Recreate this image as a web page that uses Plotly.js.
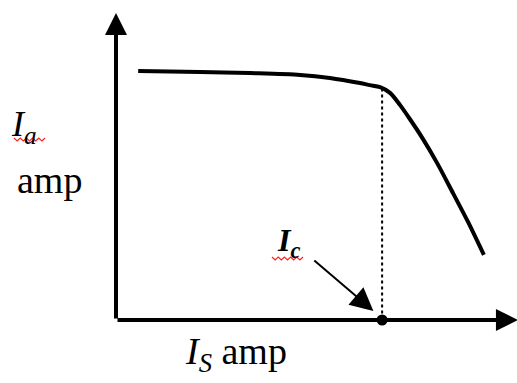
<!DOCTYPE html>
<html>
<head>
<meta charset="utf-8">
<script src="https://cdn.plot.ly/plotly-3.0.1.min.js"></script>
<style>html,body{margin:0;padding:0;background:#fff;}#chart{width:517px;height:383px;}</style>
</head>
<body>
<div id="chart"></div>
<script>
// Characteristic curve Ia vs Is (arbitrary units)
const curveX = [0.56, 2.12, 3.38, 4.65, 5.40, 6.16, 6.41, 6.67, 6.92, 7.17, 7.42, 7.73, 8.11, 8.51, 8.89, 9.29];
const curveY = [8.30, 8.27, 8.23, 8.17, 8.07, 7.90, 7.83, 7.76, 7.57, 7.17, 6.70, 6.08, 5.23, 4.23, 3.27, 2.17];
const criticalX = [6.72];     // Ic
const criticalY = [7.72];     // curve value at Ic
const axisMax = {x: 10.15, y: 10.23};
const labels = {
  ya: '<i>I</i><sub><i>a</i></sub>',
  yunit: 'amp',
  x: '<i>I</i><sub><i>S</i></sub> amp',
  ic: '<b><i>I</i></b><sub><b><i>c</i></b></sub>'
};

const serif = 'Liberation Serif, Times New Roman, serif';

const traces = [
  {x: curveX, y: curveY, mode: 'lines', line: {color: '#000', width: 4, shape: 'spline', smoothing: 0.8}, hoverinfo: 'skip', cliponaxis: false},
  {x: [criticalX[0], criticalX[0]], y: [criticalY[0], 0], mode: 'lines', line: {color: '#000', width: 2, dash: 'dot'}, hoverinfo: 'skip', cliponaxis: false},
  {x: criticalX, y: [0], mode: 'markers', marker: {color: '#000', size: 11}, hoverinfo: 'skip', cliponaxis: false}
];

const ann = [
  // axes with arrows
  {x: 0, y: axisMax.y, ax: 0, ay: 0, xref: 'x', yref: 'y', axref: 'x', ayref: 'y', text: '', showarrow: true, arrowhead: 2, arrowsize: 1.1, arrowwidth: 4, arrowcolor: '#000', standoff: 0},
  {x: axisMax.x, y: 0, ax: 0, ay: 0, xref: 'x', yref: 'y', axref: 'x', ayref: 'y', text: '', showarrow: true, arrowhead: 2, arrowsize: 1.1, arrowwidth: 4, arrowcolor: '#000', standoff: 0},
  // Ic pointer
  {x: 6.50, y: 0.30, ax: 4.97, ay: 2.03, xref: 'x', yref: 'y', axref: 'x', ayref: 'y', text: '', showarrow: true, arrowhead: 2, arrowsize: 2.3, arrowwidth: 2, arrowcolor: '#000', standoff: 0},
  // labels
  {xref: 'paper', yref: 'paper', x: (9 - 116) / 396, y: (320 - 126) / 300, xanchor: 'left', yanchor: 'middle', text: labels.ya, showarrow: false, font: {family: serif, size: 36, color: '#000'}},
  {xref: 'paper', yref: 'paper', x: (49 - 116) / 396, y: (320 - 180) / 300, xanchor: 'center', yanchor: 'middle', text: labels.yunit, showarrow: false, font: {family: serif, size: 38, color: '#000'}},
  {xref: 'paper', yref: 'paper', x: (236 - 116) / 396, y: (320 - 354) / 300, xanchor: 'center', yanchor: 'middle', text: labels.x, showarrow: false, font: {family: serif, size: 38, color: '#000'}},
  {xref: 'paper', yref: 'paper', x: (288 - 116) / 396, y: (320 - 242) / 300, xanchor: 'center', yanchor: 'middle', text: labels.ic, showarrow: false, font: {family: serif, size: 32, color: '#000'}}
];

function squiggle(x0, y0, x1, n) {
  // returns paper-coordinate zigzag path
  const step = (x1 - x0) / n;
  let d = '';
  for (let i = 0; i <= n; i++) {
    const px = x0 + i * step;
    const py = y0 + (i % 2 ? 3 : 0);
    const xp = (px - 116) / 396, yp = (320 - py) / 300;
    d += (i === 0 ? 'M' : 'L') + xp.toFixed(4) + ',' + yp.toFixed(4);
  }
  return d;
}

const shapes = [
  {type: 'path', xref: 'paper', yref: 'paper', path: squiggle(14, 138, 45, 10), line: {color: '#ff2020', width: 1.2}},
  {type: 'path', xref: 'paper', yref: 'paper', path: squiggle(272, 257, 303, 10), line: {color: '#ff2020', width: 1.2}}
];

const layout = {
  width: 517, height: 383,
  margin: {l: 116, r: 5, t: 20, b: 63},
  paper_bgcolor: '#fff', plot_bgcolor: '#fff',
  showlegend: false,
  xaxis: {range: [0, 10], showgrid: false, zeroline: false, showticklabels: false, showline: false, ticks: '', fixedrange: true},
  yaxis: {range: [0, 10], showgrid: false, zeroline: false, showticklabels: false, showline: false, ticks: '', fixedrange: true},
  annotations: ann,
  shapes: shapes
};

Plotly.newPlot('chart', traces, layout, {staticPlot: true, displayModeBar: false});
</script>
</body>
</html>
